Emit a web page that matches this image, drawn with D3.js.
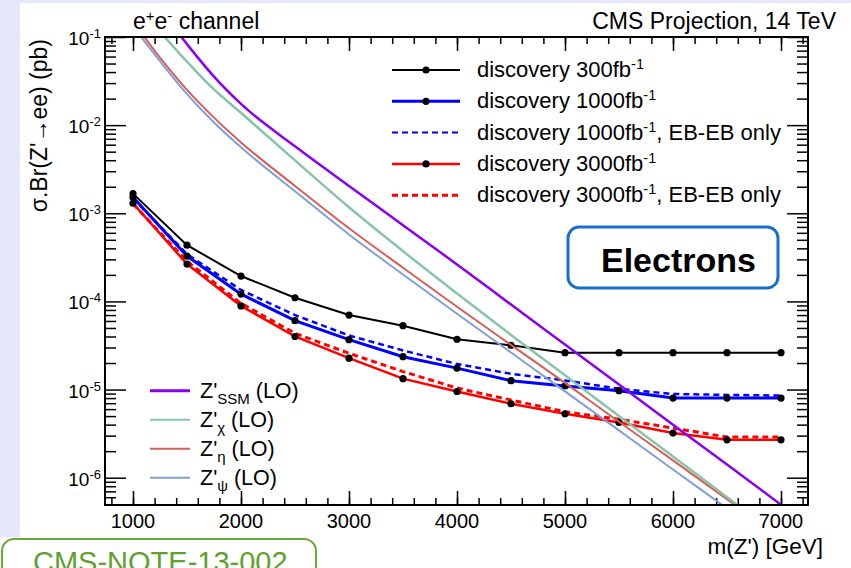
<!DOCTYPE html>
<html>
<head>
<meta charset="utf-8">
<script src="https://cdn.jsdelivr.net/npm/d3@7"></script>
<style>
body{margin:0;background:#ffffff;}
svg{display:block;}
text{font-family:"Liberation Sans",Arial,Helvetica,sans-serif;fill:#000;}
</style>
</head>
<body>
<svg id="chart" width="851" height="568"></svg>
<script>
// discovery reach, sigma.Br in pb
var masses=[1000,1500,2000,2500,3000,3500,4000,4500,5000,5500,6000,6500,7000];
var disc300=[1.67e-3,4.35e-4,1.94e-4,1.10e-4,7.0e-5,5.3e-5,3.72e-5,3.18e-5,2.62e-5,2.62e-5,2.62e-5,2.62e-5,2.62e-5];
var disc1000=[1.52e-3,3.27e-4,1.21e-4,6.04e-5,3.68e-5,2.36e-5,1.75e-5,1.26e-5,1.10e-5,9.7e-6,8.0e-6,8.0e-6,8.0e-6];
var disc1000EB=[1.48e-3,3.44e-4,1.35e-4,7.0e-5,4.11e-5,2.78e-5,1.95e-5,1.51e-5,1.27e-5,1.02e-5,8.9e-6,8.7e-6,8.55e-6];
var disc3000=[1.30e-3,2.65e-4,8.9e-5,4.0e-5,2.27e-5,1.33e-5,9.5e-6,6.9e-6,5.3e-6,4.23e-6,3.21e-6,2.69e-6,2.69e-6];
var disc3000EB=[1.28e-3,2.86e-4,9.5e-5,4.35e-5,2.58e-5,1.6e-5,1.04e-5,7.6e-6,5.6e-6,4.6e-6,3.66e-6,2.89e-6,2.89e-6];

// LO theory curves
var theoryMass=[1000,1250,1500,1750,2000,2500,3000,3500,4000,4500,5000,5500,6000,6500,7000];
var zSSM=[0.75,0.21,0.083,0.0355,0.0174,5.75e-3,2.04e-3,7.33e-4,2.63e-4,9.2e-5,3.24e-5,1.14e-5,4.0e-6,1.41e-6,4.94e-7];
var zChi=[0.32,0.117,0.0525,0.0254,0.0138,3.98e-3,1.17e-3,3.72e-4,1.23e-4,4.17e-5,1.45e-5,5.0e-6,1.74e-6,6.0e-7,2.1e-7];
var zEta=[0.15,0.0583,0.0251,0.01216,6.37e-3,2.04e-3,6.76e-4,2.41e-4,8.7e-5,3.21e-5,1.19e-5,4.31e-6,1.57e-6,5.7e-7,2.07e-7];
var zPsi=[0.132,0.0531,0.0225,0.0107,5.6e-3,1.78e-3,5.75e-4,2.02e-4,7.24e-5,2.63e-5,9.55e-6,3.44e-6,1.24e-6,4.48e-7,1.61e-7];

// axis ticks
var xTicks=[1000,2000,3000,4000,5000,6000,7000];
var xMinor=d3.range(800,7201,200);
var yDecades=[1e-6,1e-5,1e-4,1e-3,1e-2,1e-1];
var yLabels=["-6","-5","-4","-3","-2","-1"];

var frame={left:105,right:808,top:37,bottom:505};
var svg=d3.select("#chart");

var x=d3.scaleLinear().domain([750,7250]).range([106,frame.right]);
var y=d3.scaleLog().domain([4.9e-7,0.1]).range([frame.bottom,frame.top]);

// background
svg.append("rect").attr("x",0).attr("y",0).attr("width",851).attr("height",537).style("fill","#e6e6fa");
svg.append("rect").attr("x",20).attr("y",3).attr("width",831).attr("height",534).style("fill","#ffffff");

svg.append("defs").append("clipPath").attr("id","clip")
  .append("rect").attr("x",frame.left).attr("y",frame.top)
  .attr("width",frame.right-frame.left).attr("height",frame.bottom-frame.top);

// minor y ticks between decades
var yMinor=[];
for(var e=-7;e<=-2;e++){
  for(var k=2;k<=9;k++){
    var v=k*Math.pow(10,e);
    if(v>=4.9e-7 && v<=0.1) yMinor.push(v);
  }
}

function styleAxis(g){
  g.select(".domain").remove();
  g.selectAll(".tick line").style("stroke","#000").style("stroke-width","1.5px");
}

svg.append("g").attr("transform","translate("+frame.left+",0)")
  .call(d3.axisLeft(y).tickValues(yDecades).tickSize(-21).tickFormat("")).call(styleAxis);
svg.append("g").attr("transform","translate("+frame.left+",0)")
  .call(d3.axisLeft(y).tickValues(yMinor).tickSize(-11).tickFormat("")).call(styleAxis);
svg.append("g").attr("transform","translate("+frame.right+",0)")
  .call(d3.axisRight(y).tickValues(yDecades).tickSize(-21).tickFormat("")).call(styleAxis);
svg.append("g").attr("transform","translate("+frame.right+",0)")
  .call(d3.axisRight(y).tickValues(yMinor).tickSize(-11).tickFormat("")).call(styleAxis);

svg.append("g").attr("transform","translate(0,"+frame.bottom+")")
  .call(d3.axisBottom(x).tickValues(xTicks).tickSize(-14).tickFormat("")).call(styleAxis);
svg.append("g").attr("transform","translate(0,"+frame.bottom+")")
  .call(d3.axisBottom(x).tickValues(xMinor).tickSize(-7).tickFormat("")).call(styleAxis);
svg.append("g").attr("transform","translate(0,"+frame.top+")")
  .call(d3.axisTop(x).tickValues(xTicks).tickSize(-14).tickFormat("")).call(styleAxis);
svg.append("g").attr("transform","translate(0,"+frame.top+")")
  .call(d3.axisTop(x).tickValues(xMinor).tickSize(-7).tickFormat("")).call(styleAxis);

// tick labels
svg.append("g").selectAll("text").data(xTicks).enter().append("text")
  .attr("x",function(d){return x(d);}).attr("y",528)
  .attr("text-anchor","middle").style("font-size","20px").text(function(d){return d;});

var yl=svg.append("g").selectAll("text").data(yDecades).enter().append("text")
  .attr("x",101).attr("y",function(d){return y(d)+8;})
  .attr("text-anchor","end").style("font-size","19px");
yl.append("tspan").text("10");
yl.append("tspan").attr("dy",-7).style("font-size","13px").text(function(d,i){return yLabels[i];});

// axis titles
svg.append("text").attr("transform","translate(47,39) rotate(-90)")
  .attr("text-anchor","end").style("font-size","23px").text("\u03c3.Br(Z'\u2192ee) (pb)");
svg.append("text").attr("x",823).attr("y",554).attr("text-anchor","end")
  .style("font-size","22.5px").text("m(Z') [GeV]");

var t1=svg.append("text").attr("x",133).attr("y",29).style("font-size","23px");
t1.append("tspan").text("e");
t1.append("tspan").attr("dy",-8).style("font-size","15px").text("+");
t1.append("tspan").attr("dy",8).text("e");
t1.append("tspan").attr("dy",-8).style("font-size","15px").text("-");
t1.append("tspan").attr("dy",8).text(" channel");
svg.append("text").attr("x",836).attr("y",29).attr("text-anchor","end")
  .style("font-size","23px").text("CMS Projection, 14 TeV");

// curves
var line=d3.line().x(function(d){return x(d[0]);}).y(function(d){return y(d[1]);});
var smooth=d3.line().x(function(d){return x(d[0]);}).y(function(d){return y(d[1]);}).curve(d3.curveMonotoneX);

function pairs(xs,ys){return xs.map(function(m,i){return [m,ys[i]];});}

var disc=[
  {vals:disc300,color:"#000000",w:2,dash:null,dots:true},
  {vals:disc1000EB,color:"#0000ff",w:2.5,dash:"6,4",dots:false},
  {vals:disc1000,color:"#0000ff",w:3,dash:null,dots:true},
  {vals:disc3000EB,color:"#ff0000",w:3,dash:"6,4",dots:false},
  {vals:disc3000,color:"#ff0000",w:2.5,dash:null,dots:true}
];
var theory=[
  {vals:zPsi,color:"#7f9fd6",w:2},
  {vals:zEta,color:"#d45f57",w:2},
  {vals:zChi,color:"#88c4a6",w:2.5},
  {vals:zSSM,color:"#8a00f0",w:2.5}
];

var dg=svg.append("g");
disc.forEach(function(s){
  dg.append("path").datum(pairs(masses,s.vals)).attr("d",line)
    .style("fill","none").style("stroke",s.color).style("stroke-width",s.w+"px")
    .style("stroke-dasharray",s.dash);
});
disc.forEach(function(s){
  if(!s.dots) return;
  dg.selectAll(null).data(pairs(masses,s.vals)).enter().append("circle")
    .attr("cx",function(d){return x(d[0]);}).attr("cy",function(d){return y(d[1]);})
    .attr("r",3.6).style("fill","#000");
});

var tg=svg.append("g").attr("clip-path","url(#clip)");
theory.forEach(function(s){
  tg.append("path").datum(pairs(theoryMass,s.vals)).attr("d",smooth)
    .style("fill","none").style("stroke",s.color).style("stroke-width",s.w+"px");
});

// frame
svg.append("rect").attr("x",frame.left).attr("y",frame.top)
  .attr("width",frame.right-frame.left).attr("height",frame.bottom-frame.top)
  .style("fill","none").style("stroke","#000").style("stroke-width","2px");

// upper legend
var legTop=[
  {label:"discovery 300fb",tail:"",color:"#000",w:2,dash:null,dot:true},
  {label:"discovery 1000fb",tail:"",color:"#0000ff",w:3,dash:null,dot:true},
  {label:"discovery 1000fb",tail:", EB-EB only",color:"#0000ff",w:2,dash:"6,4",dot:false},
  {label:"discovery 3000fb",tail:"",color:"#ff0000",w:2.5,dash:null,dot:true},
  {label:"discovery 3000fb",tail:", EB-EB only",color:"#ff0000",w:3,dash:"6,4",dot:false}
];
legTop.forEach(function(d,i){
  var yy=70+i*31.3;
  svg.append("line").attr("x1",392).attr("x2",460).attr("y1",yy).attr("y2",yy)
    .style("stroke",d.color).style("stroke-width",d.w+"px").style("stroke-dasharray",d.dash);
  if(d.dot) svg.append("circle").attr("cx",426).attr("cy",yy).attr("r",3.6).style("fill","#000");
  var t=svg.append("text").attr("x",477).attr("y",yy+7).style("font-size","22px");
  t.append("tspan").text(d.label);
  t.append("tspan").attr("dy",-8).style("font-size","14.5px").text("-1");
  t.append("tspan").attr("dy",8).text(d.tail);
});

// lower legend
var legLow=[
  {sub:"SSM",color:"#8a00f0",w:3},
  {sub:"\u03c7",color:"#88c4a6",w:2},
  {sub:"\u03b7",color:"#d45f57",w:2},
  {sub:"\u03c8",color:"#7f9fd6",w:2}
];
legLow.forEach(function(d,i){
  var yy=390.7+i*29;
  svg.append("line").attr("x1",150).attr("x2",190).attr("y1",yy).attr("y2",yy)
    .style("stroke",d.color).style("stroke-width",d.w+"px");
  var t=svg.append("text").attr("x",200).attr("y",yy+7).style("font-size","21.5px");
  t.append("tspan").text("Z'");
  t.append("tspan").attr("dy",6).style("font-size","15px").text(d.sub);
  t.append("tspan").attr("dy",-6).text(" (LO)");
});

// Electrons box
svg.append("rect").attr("x",568).attr("y",227).attr("width",210).attr("height",61).attr("rx",11)
  .style("fill","#fff").style("stroke","#1a6fc6").style("stroke-width","3px");
svg.append("text").attr("x",601).attr("y",272).style("font-size","34px").style("font-weight","bold")
  .text("Electrons");

// note box at bottom
svg.append("rect").attr("x",2).attr("y",539).attr("width",314).attr("height",60).attr("rx",12)
  .style("fill","#fff").style("stroke","#6aa832").style("stroke-width","2px");
svg.append("text").attr("x",33).attr("y",572).style("font-size","29px").style("fill","#5da12e")
  .text("CMS-NOTE-13-002");
</script>
</body>
</html>
